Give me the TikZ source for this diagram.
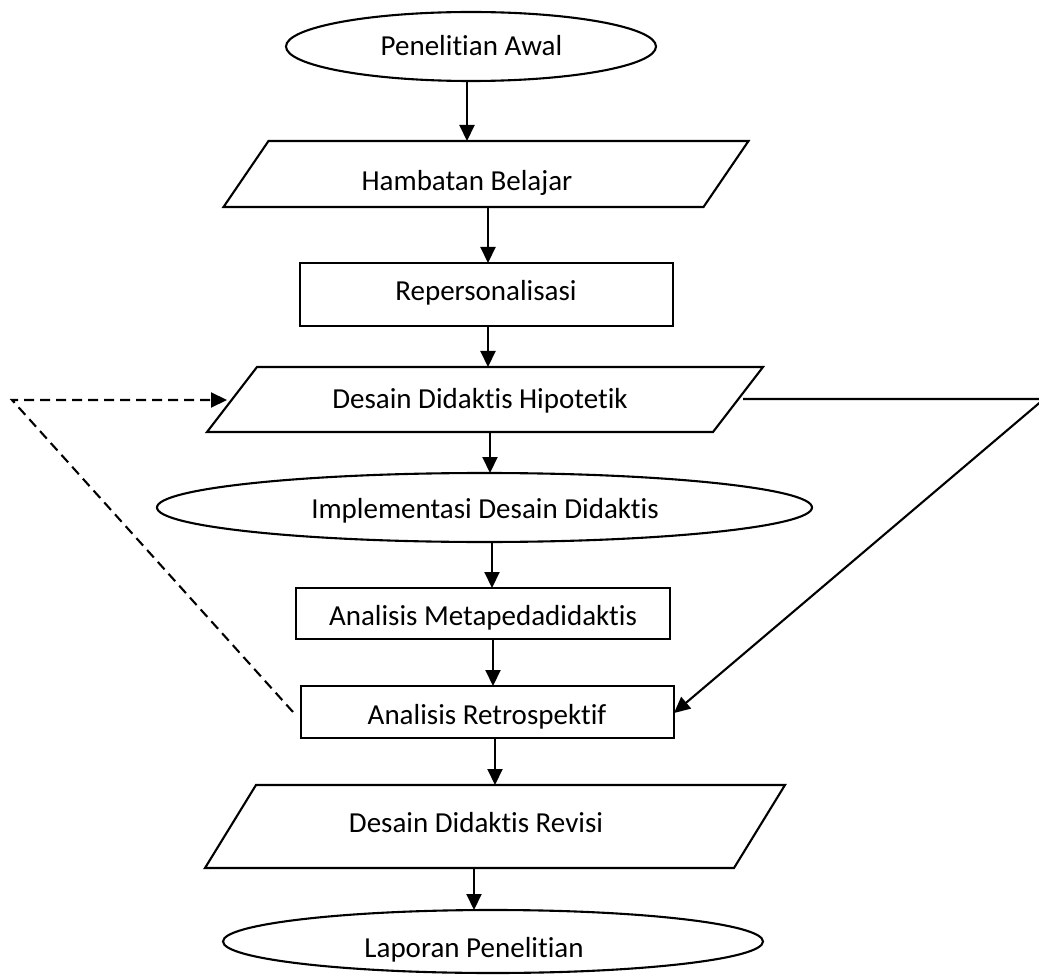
\documentclass[tikz,border=0pt]{standalone}
\usepackage{fontspec}
\setmainfont{Carlito}[Ligatures={NoCommon}]
\usetikzlibrary{shapes.geometric,arrows.meta}
\tikzset{
  shp/.style={line width=2.1pt, inner sep=0pt, outer sep=0pt},
  oval/.style={shp, draw, ellipse},
  box/.style={shp, draw, rectangle},
  slab/.style={shp, rectangle},
  lbl/.style={font=\fontsize{29}{35}\selectfont, inner sep=0pt, anchor=base},
  arr/.style={line width=2.1pt, -{Triangle[length=16pt,width=15pt]}},
  dsh/.style={line width=2.1pt, dash pattern=on 10pt off 6pt, -{Triangle[length=16pt,width=15pt]}},
  skewline/.style={line width=2.1pt, line join=miter},
}
\begin{document}
\begin{tikzpicture}[x=1pt,y=-1pt]
\useasboundingbox (0,0) rectangle (1039,976);

% shapes
\node[oval, minimum width=370pt, minimum height=69pt] (pen) at (471,46.5) {};
\node[slab, minimum width=480pt, minimum height=66pt] (hamb) at (486,174) {};
\node[box, minimum width=373pt, minimum height=63pt] (rep) at (486.5,294.5) {};
\node[slab, minimum width=506pt, minimum height=65pt] (hip) at (485,399.5) {};
\node[oval, minimum width=655pt, minimum height=69pt] (imp) at (484.5,507.5) {};
\node[box, minimum width=374pt, minimum height=51pt] (meta) at (483,613.5) {};
\node[box, minimum width=373pt, minimum height=52pt] (retro) at (487.5,712) {};
\node[slab, minimum width=529pt, minimum height=83pt] (rev) at (495,826.5) {};
\node[oval, minimum width=540pt, minimum height=63pt] (lap) at (493,941.5) {};

% parallelogram outlines
\draw[skewline] ([xshift=22.5pt]hamb.north west) -- ([xshift=22.5pt]hamb.north east)
  -- ([xshift=-22.5pt]hamb.south east) -- ([xshift=-22.5pt]hamb.south west) -- cycle;
\draw[skewline] ([xshift=25pt]hip.north west) -- ([xshift=25pt]hip.north east)
  -- ([xshift=-25pt]hip.south east) -- ([xshift=-25pt]hip.south west) -- cycle;
\draw[skewline] ([xshift=25.5pt]rev.north west) -- ([xshift=25.5pt]rev.north east)
  -- ([xshift=-25.5pt]rev.south east) -- ([xshift=-25.5pt]rev.south west) -- cycle;

% labels
\node[lbl] (penT) at (471.5,56) {Penelitian Awal};
\node[lbl] (hambT) at (467,191) {Hambatan Belajar};
\node[lbl] (repT) at (486,301) {Repersonalisasi};
\node[lbl] (hipT) at (480,408) {Desain Didaktis Hipotetik};
\node[lbl] (impT) at (485,518) {Implementasi Desain Didaktis};
\node[lbl] (metaT) at (483,625) {Analisis Metapedadidaktis};
\node[lbl] (retroT) at (487,724) {Analisis Retrospektif};
\node[lbl] (revT) at (476,832) {Desain Didaktis Revisi};
\node[lbl] (lapT) at (474,957) {Laporan Penelitian};

% vertical connectors
\draw[arr] ([xshift=-4pt]pen.south) -- ([xshift=-4pt]pen.south |- hamb.north);
\draw[arr] ([xshift=2pt]hamb.south) -- ([xshift=2pt]hamb.south |- rep.north);
\draw[arr] ([xshift=1.5pt]rep.south) -- ([xshift=1.5pt]rep.south |- hip.north);
\draw[arr] ([xshift=5pt]hip.south) -- ([xshift=5pt]hip.south |- imp.north);
\draw[arr] ([xshift=7.5pt]imp.south) -- ([xshift=7.5pt]imp.south |- meta.north);
\draw[arr] ([xshift=10pt]meta.south) -- ([xshift=10pt]meta.south |- retro.north);
\draw[arr] ([xshift=7.5pt]retro.south) -- ([xshift=7.5pt]retro.south |- rev.north);
\draw[arr] ([xshift=-21pt]rev.south) -- ([xshift=-21pt]rev.south |- lap.north);

% feedback connectors
\coordinate (dl) at (12,400);
\coordinate (cr) at (1044,399);
\draw[dsh] ([xshift=-8pt]retro.west) -- (dl) -- ([xshift=-5pt,yshift=-0.5pt]hip.west);
\draw[arr] ([xshift=5pt,yshift=0.5pt]hip.east) -- (cr) -- ([yshift=-1pt]retro.east);
\end{tikzpicture}
\end{document}
